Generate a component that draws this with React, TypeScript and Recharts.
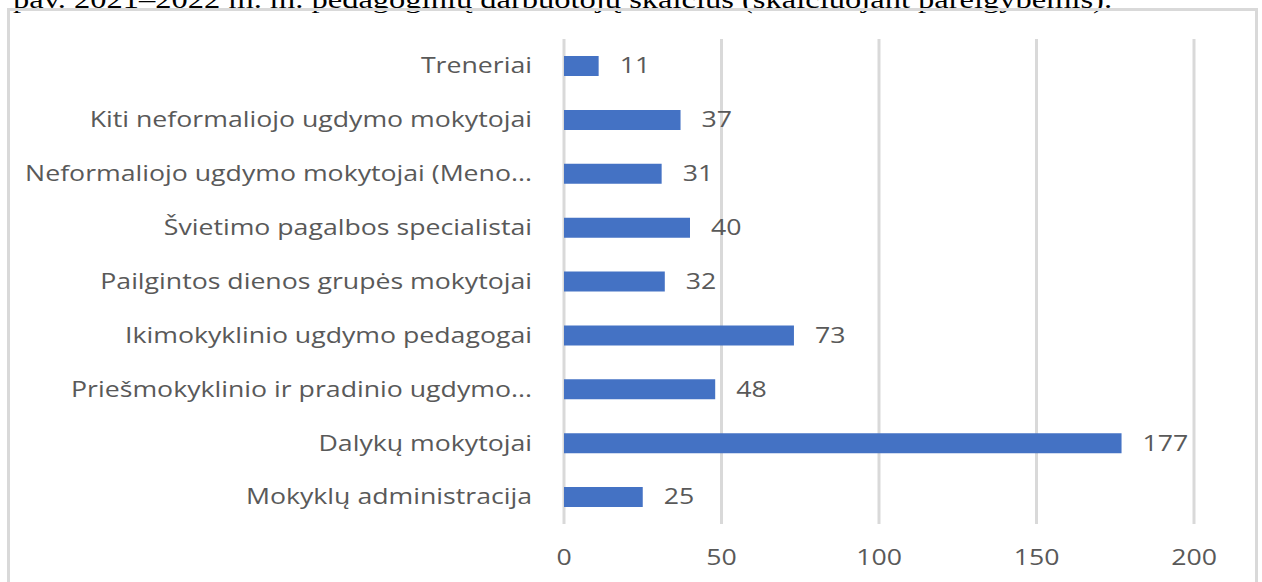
import { Bar, BarChart, CartesianGrid, LabelList, XAxis, YAxis } from "recharts";

const categories = [
  "Treneriai",
  "Kiti neformaliojo ugdymo mokytojai",
  "Neformaliojo ugdymo mokytojai (Meno...",
  "Švietimo pagalbos specialistai",
  "Pailgintos dienos grupės mokytojai",
  "Ikimokyklinio ugdymo pedagogai",
  "Priešmokyklinio ir pradinio ugdymo...",
  "Dalykų mokytojai",
  "Mokyklų administracija",
];
const values = [11, 37, 31, 40, 32, 73, 48, 177, 25];
const xTicks = [0, 50, 100, 150, 200];
const caption = "pav. 2021–2022 m. m. pedagoginių darbuotojų skaičius (skaičiuojant pareigybėmis).";

const data = categories.map((name, i) => ({ name, value: values[i] }));

const FONT = "'Open Sans', sans-serif";
const GREY = "#595959";
const FS = 21;
// the source picture is stretched sideways, so texts are widened to match
const SX = 1.27;

const CategoryTick = (props: any) => {
  const { x, y, payload } = props;
  return (
    <text
      transform={`translate(${x},${y}) scale(${SX},1)`}
      textAnchor="end"
      dy="0.35em"
      fill={GREY}
      fontSize={FS}
      fontFamily={FONT}
    >
      {payload.value}
    </text>
  );
};

const ValueTick = (props: any) => {
  const { x, y, payload } = props;
  return (
    <text
      transform={`translate(${x},${y}) scale(${SX},1)`}
      textAnchor="middle"
      dy="0.71em"
      fill={GREY}
      fontSize={FS}
      fontFamily={FONT}
    >
      {payload.value}
    </text>
  );
};

const BarValue = (props: any) => {
  const { x, y, width, height, value } = props;
  return (
    <text
      transform={`translate(${x + width + 21},${y + height / 2}) scale(${SX},1)`}
      textAnchor="start"
      dy="0.35em"
      fill={GREY}
      fontSize={FS}
      fontFamily={FONT}
    >
      {value}
    </text>
  );
};

export default function App() {
  return (
    <div style={{ position: "absolute", left: 0, top: 0, width: 1262, height: 582, overflow: "hidden", background: "#fff" }}>
      <div
        style={{
          position: "absolute",
          left: 13,
          top: -14,
          fontFamily: "'Liberation Serif', serif",
          fontSize: 25,
          lineHeight: "28px",
          whiteSpace: "nowrap",
          color: "#000",
          transform: "scaleX(1.3)",
          transformOrigin: "0 0",
        }}
      >
        {caption}
      </div>
      <div
        style={{
          position: "absolute",
          left: 7,
          top: 8,
          width: 1245,
          height: 590,
          border: "3px solid #d9d9d9",
        }}
      />
      <div style={{ position: "absolute", left: 10, top: 11 }}>
        <BarChart
          layout="vertical"
          width={1240}
          height={571}
          data={data}
          margin={{ top: 28, right: 56, bottom: 6, left: 0 }}
          barCategoryGap={17}
        >
          <CartesianGrid horizontal={false} stroke="#d9d9d9" strokeWidth={3} />
          <XAxis
            type="number"
            domain={[0, 200]}
            ticks={xTicks}
            axisLine={false}
            tickLine={false}
            tickSize={0}
            tickMargin={26}
            height={52}
            tick={<ValueTick />}
          />
          <YAxis
            type="category"
            dataKey="name"
            width={554}
            axisLine={false}
            tickLine={false}
            tickSize={0}
            tickMargin={32}
            interval={0}
            tick={<CategoryTick />}
          />
          <Bar dataKey="value" fill="#4472c4" barSize={20} isAnimationActive={false}>
            <LabelList dataKey="value" content={<BarValue />} />
          </Bar>
        </BarChart>
      </div>
    </div>
  );
}
